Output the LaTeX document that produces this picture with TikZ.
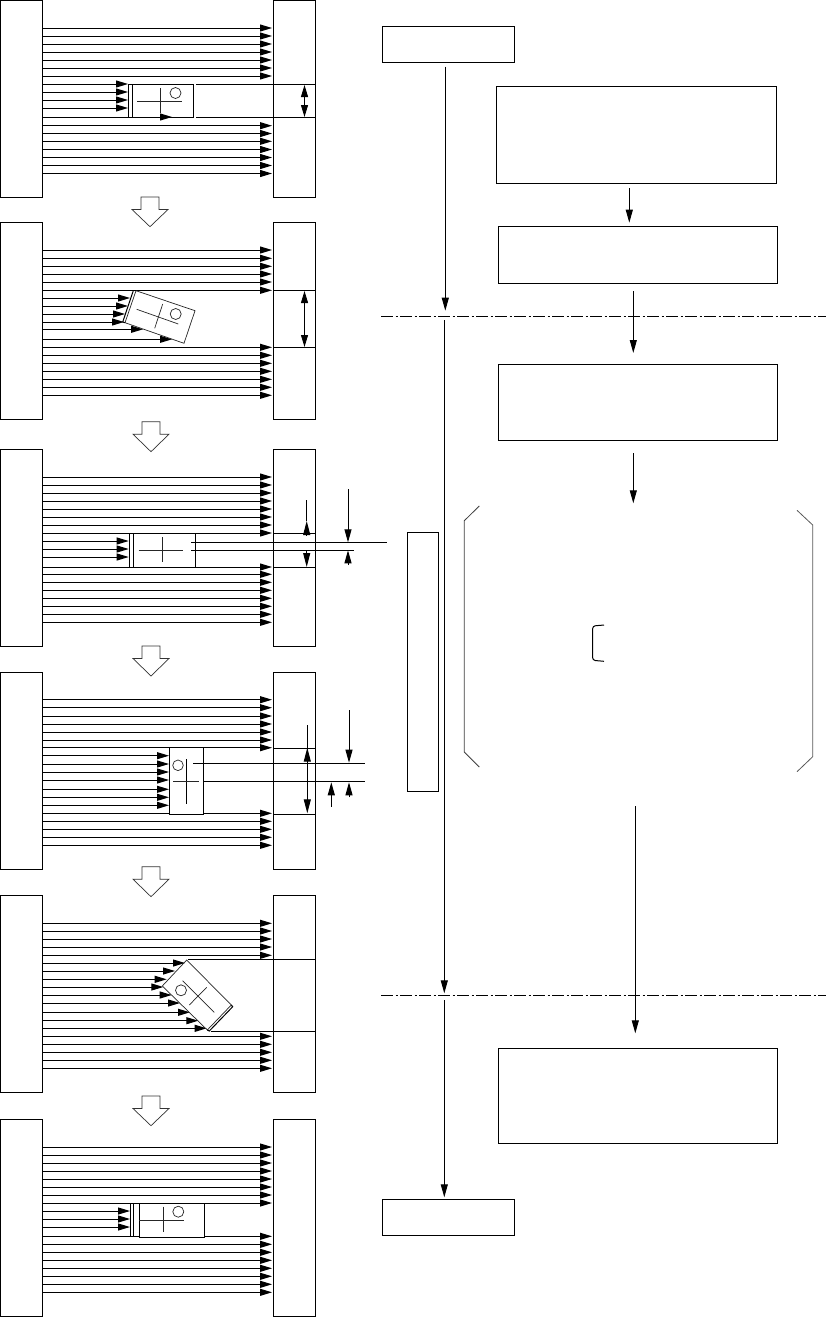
\documentclass[tikz,border=0pt]{standalone}
\usetikzlibrary{arrows.meta,calc}
\tikzset{
  ln/.style={line width=1pt,black},
  thin line/.style={line width=0.7pt,black!85},
  arr/.style={ln,-{Triangle[length=12pt,width=7pt]}},
  darr/.style={line width=0.9pt,black,{Triangle[length=12pt,width=7pt]}-{Triangle[length=12pt,width=7pt]}},
  flow/.style={line width=1pt,black,-{Triangle[length=13pt,width=7pt]}},
  box/.style={draw,line width=1pt,inner sep=0pt,outer sep=0pt,fill=white},
  hollow/.style={line width=0.7pt,black!80,line join=miter},
  chain/.style={line width=1pt,black,dash pattern=on 12pt off 2.5pt on 2pt off 2.5pt}
}
\newcommand{\bx}[5]{%
  \pgfmathsetmacro{\bw}{#4-#2}\pgfmathsetmacro{\bh}{#5-#3}%
  \pgfmathsetmacro{\bcx}{(#4+#2)/2}\pgfmathsetmacro{\bcy}{(#5+#3)/2}%
  \node[box,minimum width=\bw pt,minimum height=\bh pt] (#1) at (\bcx,\bcy) {};}
\newcommand{\panel}[2]{%
  \bx{L#1}{0.5}{#2}{42.5}{#2+197}\bx{R#1}{273.5}{#2}{315.5}{#2+197}}
\newcommand{\full}[2]{\foreach \y in {#2} \draw[arr] (L#1.east |- 0,\y) -- (272,\y);}
\newcommand{\short}[2]{\foreach \y/\x in {#2} \draw[arr] (L#1.east |- 0,\y) -- (\x,\y);}
\newcommand{\hol}[3]{% cx, top, apex
  \draw[hollow] (#1-9,#2) -- (#1+9,#2) -- (#1+9,#2+12.5) -- (#1+18,#2+12.5) -- (#1,#3) -- (#1-18,#2+12.5) -- (#1-9,#2+12.5) -- cycle;}
\begin{document}
\begin{tikzpicture}[x=1pt,y=-1pt]
\useasboundingbox (0,0) rectangle (826,1317);
\fill[white] (0,0) rectangle (826,1317);

% Panel 1
\panel{1}{0.7}
\full{1}{28,36,44,52,60,68,76,125.7,133.5,141.3,149.5,157.5,165.5,173.5}
\short{1}{84/128,92/128,100/128,108/128,117/172}
\draw[ln] (128.5,84.5) rectangle (193.5,117.3);
\draw[ln] (132,84.5) -- (132,117.3);
\draw[ln] (196,84.5) -- (R1.east |- 0,84.5);
\draw[ln] (196,117.5) -- (R1.east |- 0,117.5);
\draw[thin line] (160.5,88) -- (160.5,113);
\draw[thin line] (137,101) -- (182,101);
\draw[thin line] (175.5,93) circle (5.5);
\draw[darr] (304.5,85) -- (304.5,117);
\hol{150}{197}{226.7}

% Panel 2
\panel{2}{222.5}
\full{2}{250,258.3,266.3,274,282,290.3,347.3,355.3,363.3,371.3,379.3,387.3,395.3}
\short{2}{298/130,306/128,314/125,322/124,329.3/143,339.3/172}
\draw[thin line] (136,290.7) -- (195,310.7) -- (184,343.3) -- (125,322.7) -- cycle;
\draw[ln] (133.3,290.7) -- (122.7,322) -- (125,322.7);
\draw[ln] (133.3,290.7) -- (136,290.7);
\draw[thin line] (136.7,309.3) -- (178.3,324);
\draw[thin line] (162.7,304) -- (154.7,328.3);
\draw[thin line] (175.7,314) circle (5.5);
\draw[ln] (R2.west |- 0,290.3) -- (R2.east |- 0,290.3);
\draw[ln] (R2.west |- 0,347.3) -- (R2.east |- 0,347.3);
\draw[darr] (304.5,291) -- (304.5,347);
\hol{151}{421.7}{451.7}

% Panel 3
\panel{3}{449.3}
\full{3}{477,485,493,501,509,517,525,533,567,574.3,582.3,590.3,598.3,606.3,614.3,622.3}
\short{3}{541/128.7,549/128.7,557/128.7}
\draw[box] (129.5,533.3) rectangle (195.5,567);
\draw[ln] (133,533.3) -- (133,567);
\draw[thin line] (162.7,537) -- (162.7,562.3);
\draw[thin line] (138.7,550.3) -- (183.3,550.3);
\draw[ln] (R3.west |- 0,533.3) -- (R3.east |- 0,533.3);
\draw[ln] (R3.west |- 0,567) -- (R3.east |- 0,567);
\draw[ln] (191,542.3) -- (386.7,542.3);
\draw[ln] (191,550.3) -- (354.3,550.3);
\draw[ln] (306.7,500) -- (306.7,521);
\draw[flow,-{Triangle[length=14pt,width=7pt]}] (306.7,535) -- (306.7,521);
\draw[flow,-{Triangle[length=14pt,width=7pt]}] (306.7,550.5) -- (306.7,567);
\draw[flow] (348,489) -- (348,542.3);
\draw[flow] (348,565) -- (348,550.3);
\hol{151}{646}{676}

% Panel 4
\panel{4}{672.3}
\full{4}{699.7,707.7,716,724,732,740,747.7,813.3,821.3,829.3,837.3,845.3}
\short{4}{755.7/169,764/169,772/169,780/169,789.3/169,797.3/169,805.3/169}
\draw[box] (169.3,747.7) rectangle (203.3,814.3);
\draw[thin line] (178,765.3) circle (5.3);
\draw[ln] (186.3,759.3) -- (186.3,804.3);
\draw[thin line] (173,781.3) -- (199,781.3);
\draw[ln] (R4.west |- 0,748.3) -- (R4.east |- 0,748.3);
\draw[ln] (R4.west |- 0,814.3) -- (R4.east |- 0,814.3);
\draw[ln] (193,763.3) -- (365,763.3);
\draw[ln] (203.3,781.3) -- (365,781.3);
\draw[ln] (307.3,725.3) -- (307.3,761.7);
\draw[flow,-{Triangle[length=14pt,width=7pt]}] (307.3,761.7) -- (307.3,747.7);
\draw[flow,-{Triangle[length=14pt,width=7pt]}] (307.3,761.7) -- (307.3,813.3);
\draw[flow] (349,710) -- (349,762.7);
\draw[flow] (349,797.3) -- (349,782.3);
\draw[flow] (331.3,806.7) -- (331.3,782.3);
\hol{151}{866.7}{896.7}

% Panel 5
\panel{5}{895.3}
\full{5}{923.3,931,939,947,955.3,1036.3,1044.3,1052.3,1060.3,1068.3}
\short{5}{963/185,971/175,979.3/166.7,987/163.3,995/171.7,1003/180,1012.3/190,1020.7/198.3,1028.3/206.7}
\draw[thin line] (186.7,960) -- (162.3,986) -- (207.3,1030) -- (231.3,1005) -- cycle;
\draw[ln] (207.3,1030) -- (209.3,1031) -- (232.7,1006.7) -- (231.3,1005);
\draw[thin line] (182.7,980.7) -- (214.3,1012.3);
\draw[thin line] (206.7,987.3) -- (189.3,1005);
\draw[thin line] (181,990.3) circle (5.5);
\draw[ln] (187.7,959.3) -- (R5.east |- 0,959.3);
\draw[ln] (210.7,1031.3) -- (R5.east |- 0,1031.3);
\hol{151}{1096}{1125.7}

% Panel 6
\panel{6}{1119.3}
\full{6}{1147,1155,1163,1171,1179,1187,1195,1203,1236.3,1244.3,1252.3,1260.3,1268.3,1276.3,1284.3,1292.3}
\short{6}{1211/130,1219/130,1227/130}
\draw[box] (130.3,1203.3) rectangle (133.3,1236.7);
\draw[box] (139.3,1203.3) rectangle (204.7,1237.3);
\draw[thin line] (163.3,1206.7) -- (163.3,1232.3);
\draw[thin line] (139.3,1220.3) -- (184,1220.3);
\draw[thin line] (178.3,1211.7) circle (5.5);

% Right-hand flow
\bx{start}{382.3}{26.3}{514.3}{62.3}
\bx{A}{496.3}{86.3}{776}{183.3}
\bx{B}{498.3}{226.3}{777.5}{283.3}
\bx{C}{498.3}{364.3}{777.5}{440.3}
\bx{E}{498.3}{1048.3}{777.5}{1143.3}
\bx{stop}{382.3}{1199.3}{514.3}{1235.3}
\bx{side}{407.3}{532.3}{438.3}{791.3}

\draw[chain] (381,316) -- (826,316);
\draw[chain] (381,995.3) -- (826,995.3);

\coordinate (s1) at (445.3,66.7);
\coordinate (e1) at (445.3,310.7);
\coordinate (s2) at (444.3,320);
\coordinate (e2) at (444.3,993.3);
\coordinate (s3) at (444.3,1000);
\draw[flow] (s1) -- (e1);
\draw[flow] (s2) -- (e2);
\draw[flow,shorten >=2pt] (s3) -- (s3 |- stop.north);

\draw[flow] (629.3,188.3) -- (629.3,222.7);
\draw[flow] (633.3,291) -- (633.3,353);
\draw[flow] (633.3,453) -- (633.3,503.3);
\draw[flow] (635.3,806) -- (635.3,1033.3);

% Brackets
\draw[line width=0.8pt,black!75] (479.3,506) -- (464.3,520.7) -- (464.3,752) -- (479.3,767);
\draw[line width=0.8pt,black!65] (797,510.3) -- (812.7,525) -- (812.7,756.7) -- (797,771.7);
\draw[line width=1pt,black,rounded corners=2.5pt] (604,625) -- (592.7,626) -- (592.7,660.3) -- (604,661.3);
\end{tikzpicture}
\end{document}
